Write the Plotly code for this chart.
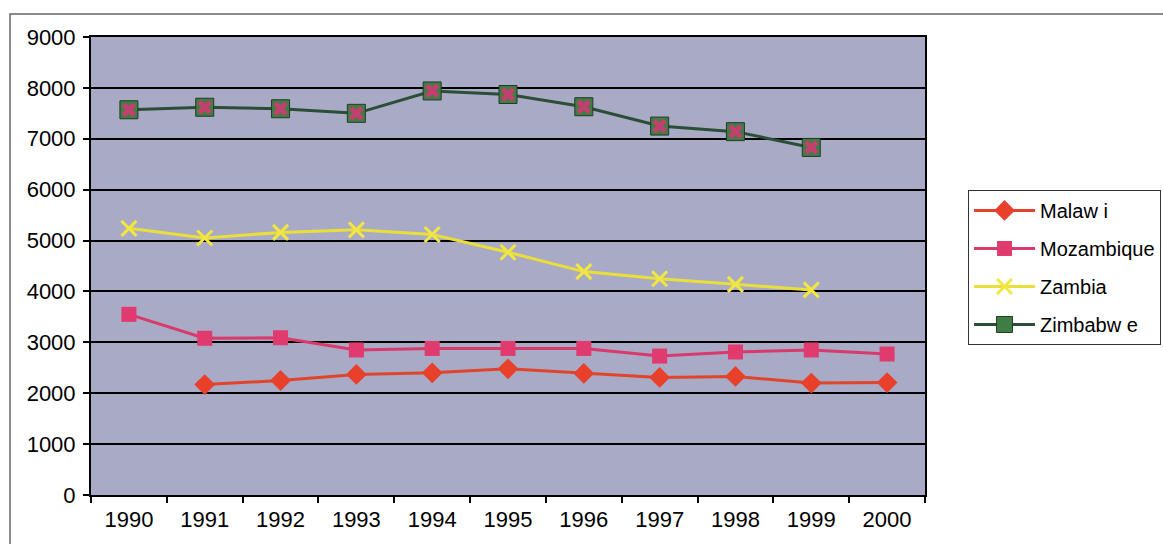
import plotly.graph_objects as go

years = ["1990", "1991", "1992", "1993", "1994", "1995", "1996", "1997", "1998", "1999", "2000"]
malawi = [None, 2170, 2250, 2370, 2400, 2480, 2390, 2310, 2330, 2200, 2210]
mozambique = [3550, 3080, 3090, 2850, 2880, 2880, 2880, 2730, 2810, 2850, 2770]
zambia = [5240, 5050, 5160, 5210, 5120, 4770, 4390, 4250, 4140, 4030, None]
zimbabwe = [7570, 7620, 7590, 7500, 7940, 7870, 7630, 7250, 7140, 6830, None]
names = ["Malaw i", "Mozambique", "Zambia", "Zimbabw e"]
y_ticks = [0, 1000, 2000, 3000, 4000, 5000, 6000, 7000, 8000, 9000]

FONT = "Liberation Sans, Arial, sans-serif"

fig = go.Figure()
fig.add_trace(go.Scatter(
    x=years, y=malawi, name=names[0], mode="lines+markers", legendgroup="a",
    line=dict(color="#e0452c", width=3),
    marker=dict(symbol="diamond", size=16, color="#e8402a", line=dict(width=0)),
))
fig.add_trace(go.Scatter(
    x=years, y=mozambique, name=names[1], mode="lines+markers", legendgroup="b",
    line=dict(color="#d83a6c", width=3),
    marker=dict(symbol="square", size=15, color="#e03a6e", line=dict(width=0)),
))
fig.add_trace(go.Scatter(
    x=years, y=zambia, name=names[2], mode="lines+markers", legendgroup="c",
    line=dict(color="#eadf3a", width=3),
    marker=dict(symbol="x-thin", size=15, color="#f2e640", line=dict(width=3, color="#f2e640")),
))
fig.add_trace(go.Scatter(
    x=years, y=zimbabwe, name=names[3], mode="lines+markers", legendgroup="d",
    line=dict(color="#2a4e36", width=3),
    marker=dict(symbol="square", size=18, color="#3f7d45", line=dict(width=1, color="#233a28")),
))
fig.add_trace(go.Scatter(
    x=years, y=zimbabwe, name=names[3], mode="markers", legendgroup="d", showlegend=False,
    marker=dict(symbol="x", size=13, color="#c2406e", line=dict(width=0)),
    hoverinfo="skip",
))

fig.update_layout(
    width=1163, height=544,
    margin=dict(l=91, r=238, t=37, b=49, autoexpand=False),
    paper_bgcolor="white",
    plot_bgcolor="#a9aac6",
    font=dict(family=FONT, size=20, color="black"),
    showlegend=True,
    legend=dict(
        x=1.0516, y=0.666, xanchor="left", yanchor="top",
        bgcolor="white", bordercolor="#333333", borderwidth=1,
        font=dict(family=FONT, size=20, color="black"),
        itemwidth=61, tracegroupgap=9,
    ),
    shapes=[dict(
        type="rect", xref="paper", yref="paper",
        x0=-0.0971, x1=1.3, y0=-0.15, y1=1.0502,
        line=dict(color="#666666", width=1.5), fillcolor="rgba(0,0,0,0)", layer="below",
    )],
)
fig.update_xaxes(
    type="category", range=[-0.5, 10.5],
    showline=True, linecolor="black", linewidth=2, mirror=True,
    ticks="outside", tickson="boundaries", ticklen=6, tickwidth=1.5, tickcolor="black",
    showgrid=False, ticklabelstandoff=4,
    tickfont=dict(family=FONT, size=22, color="black"),
)
fig.update_yaxes(
    range=[0, 9000], tickvals=y_ticks,
    showline=True, linecolor="black", linewidth=2, mirror=True,
    ticks="outside", ticklen=6, tickwidth=1.5, tickcolor="black",
    showgrid=True, gridcolor="black", gridwidth=1.5, zeroline=False,
    ticklabelstandoff=3,
    tickfont=dict(family=FONT, size=22, color="black"),
)

fig.write_html(
    "out.html",
    config={"displayModeBar": False},
    post_script="document.body.style.margin='0';document.body.style.overflow='hidden';",
)
